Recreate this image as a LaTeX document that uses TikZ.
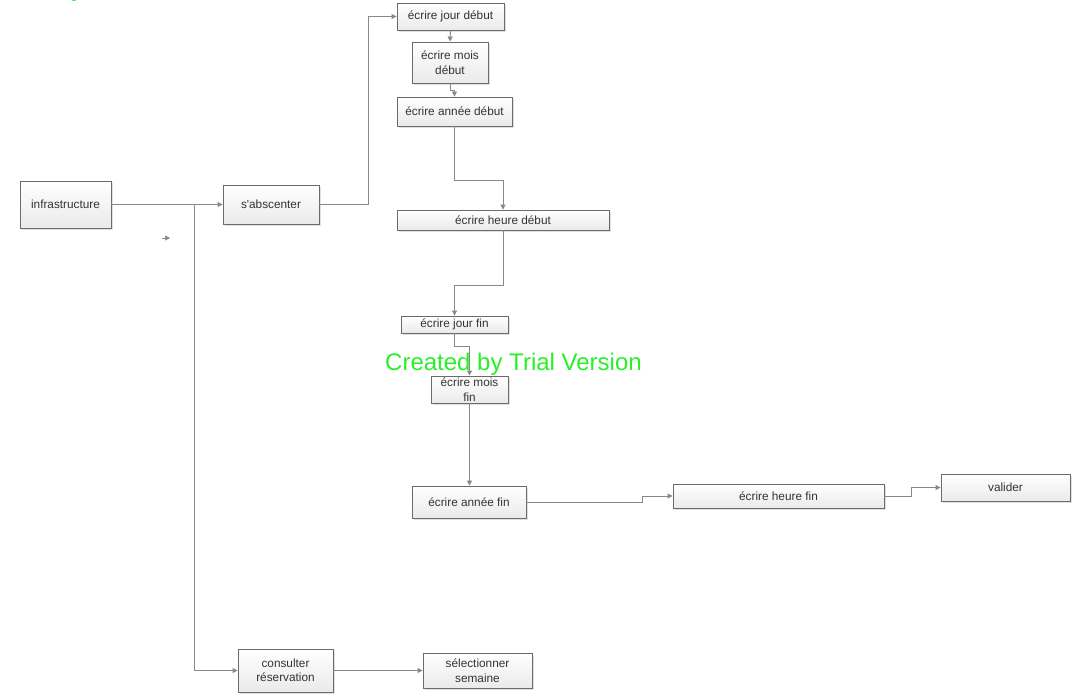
\documentclass[tikz,border=0pt]{standalone}
\usepackage{fontspec}
\setmainfont{Liberation Sans}
\usetikzlibrary{arrows.meta,shadows}
\definecolor{boxline}{HTML}{6B6B6B}
\definecolor{lin}{HTML}{888888}
\definecolor{txt}{HTML}{333333}
\definecolor{boxbot}{HTML}{EAEAEA}
\definecolor{wmgreen}{RGB}{40,240,40}
\begin{document}
\begin{tikzpicture}[x=1pt,y=-1pt,
  box/.style={draw=boxline, line width=0.9pt, top color=white, bottom color=boxbot,
    inner sep=0pt, align=center, font=\fontsize{11.8}{14.5}\selectfont, text=txt,
    drop shadow={shadow xshift=1.5pt, shadow yshift=-1.5pt, fill=black, opacity=0.12}},
  conn/.style={draw=lin, line width=0.9pt, -{Triangle[length=5pt,width=5pt]}},
  wm/.style={font=\fontsize{24}{28}\selectfont, text=wmgreen, inner sep=0pt},
]
\fill[white] (0,0) rectangle (1073,699);
\useasboundingbox (0,0) rectangle (1073,699);

\node[box, minimum width=91pt, minimum height=47pt] (infra) at (65.5,204.5) {infrastructure};
\node[box, minimum width=96pt, minimum height=39pt] (absc) at (271,204.5) {s\textquotesingle abscenter};
\node[box, minimum width=107pt, minimum height=27pt] (jourD) at (450.5,16.5) {écrire jour début};
\node[box, minimum width=76pt, minimum height=41pt] (moisD) at (450,62.5) {écrire mois\\début};
\node[box, minimum width=115pt, minimum height=29pt] (anneeD) at (454.5,111.5) {écrire année début};
\node[box, minimum width=212pt, minimum height=20pt] (heureD) at (503,220) {écrire heure début};
\node[box, minimum width=107pt, minimum height=17pt] (jourF) at (454.5,324.5) {écrire jour fin};
\node[box, minimum width=77pt, minimum height=27pt] (moisF) at (469.5,389.5) {écrire mois\\fin};
\node[box, minimum width=114pt, minimum height=32pt] (anneeF) at (469,502) {écrire année fin};
\node[box, minimum width=211pt, minimum height=24pt] (heureF) at (778.5,496) {écrire heure fin};
\node[box, minimum width=129pt, minimum height=27pt] (valider) at (1005.5,487.5) {valider};
\node[box, minimum width=95pt, minimum height=43pt] (cons) at (285.5,670.5) {consulter\\réservation};
\node[box, minimum width=109pt, minimum height=35pt] (sel) at (477.5,670.5) {sélectionner\\semaine};

\coordinate (strayA) at (162,238);
\coordinate (strayB) at (170,238);

\draw[conn] (infra.east) -- (absc.west);
\draw[conn] (infra.east) -- (194,204.5) |- (cons.west);
\draw[conn] (absc.east) -- (368,204.5) |- (jourD.west);
\draw[conn] (jourD.south) -- (moisD.north);
\draw[conn] (moisD.south) -- (450,90) -| (anneeD.north);
\draw[conn] (anneeD.south) -- (454.5,180) -| (heureD.north);
\draw[conn] (heureD.south) -- (503,285) -| (jourF.north);
\draw[conn] (jourF.south) -- (454.5,346) -| (moisF.north);
\draw[conn] (moisF.south) -- (moisF.south |- anneeF.north);
\draw[conn] (anneeF.east) -- (642,502) |- (heureF.west);
\draw[conn] (heureF.east) -- (911,496) |- (valider.west);
\draw[conn] (cons.east) -- (sel.west);
\draw[conn, line width=0.6pt] (strayA) -- (strayB);

\node[wm, anchor=base west] (wm1) at (385,370) {Created by Trial Version};
\begin{scope}
\clip (0,0) rectangle (1073,699);
\node[wm, anchor=base west] (wm0) at (-34,-3.5) {Created by Trial Version};
\end{scope}
\end{tikzpicture}
\end{document}
